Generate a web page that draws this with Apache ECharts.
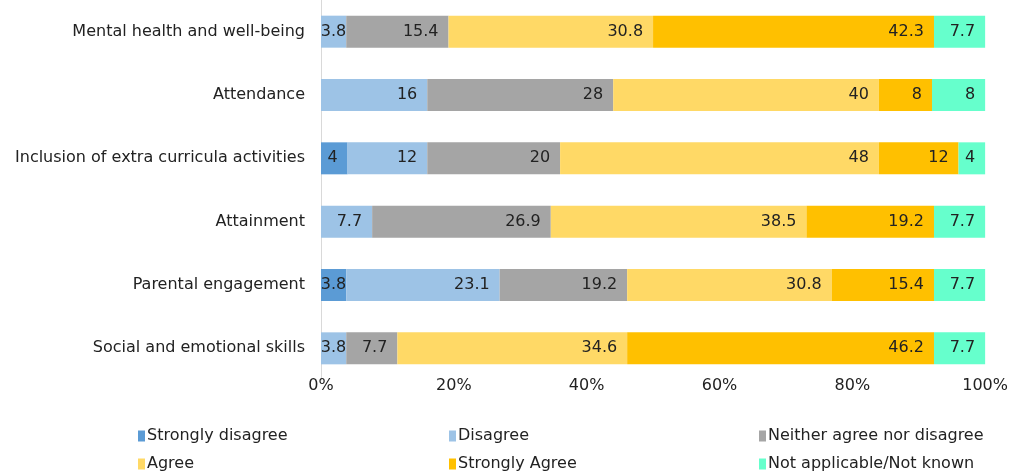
<!DOCTYPE html>
<html>
<head>
<meta charset="utf-8">
<script src="https://cdn.jsdelivr.net/npm/echarts@6/dist/echarts.min.js"></script>
<style>
  html, body { margin: 0; padding: 0; background: #fff; }
  #chart { width: 1011px; height: 474px; }
</style>
</head>
<body>
<div id="chart"></div>
<script>
var categories = ['Mental health and well-being', 'Attendance', 'Inclusion of extra curricula activities',
  'Attainment', 'Parental engagement', 'Social and emotional skills'];
var xTicks = ['0%', '20%', '40%', '60%', '80%', '100%'];

var stronglyDisagree = [0, 0, 4, 0, 3.8, 0];
var disagree = [3.8, 16, 12, 7.7, 23.1, 3.8];
var neither = [15.4, 28, 20, 26.9, 19.2, 7.7];
var agree = [30.8, 40, 48, 38.5, 30.8, 34.6];
var stronglyAgree = [42.3, 8, 12, 19.2, 15.4, 46.2];
var notKnown = [7.7, 8, 4, 7.7, 7.7, 7.7];

var FONT = 'DejaVu Sans';

var seriesDefs = [
  { name: 'Strongly disagree', data: stronglyDisagree, color: '#5B9BD5' },
  { name: 'Disagree', data: disagree, color: '#9DC3E6' },
  { name: 'Neither agree nor disagree', data: neither, color: '#A5A5A5' },
  { name: 'Agree', data: agree, color: '#FFD966' },
  { name: 'Strongly Agree', data: stronglyAgree, color: '#FFC000' },
  { name: 'Not applicable/Not known', data: notKnown, color: '#66FFCC' }
];

// legend slots: column x, row y
var legendPos = [[133, 423], [133, 451], [444, 423], [444, 451], [754, 423], [754, 451]];
var legendOrder = ['Strongly disagree', 'Agree', 'Disagree', 'Strongly Agree',
  'Neither agree nor disagree', 'Not applicable/Not known'];

var chart = echarts.init(document.getElementById('chart'));

var series = seriesDefs.map(function (s) {
  return {
    name: s.name,
    type: 'bar',
    stack: 'total',
    barWidth: 32,
    itemStyle: { color: s.color },
    label: {
      show: true,
      position: 'insideRight',
      distance: 10,
      color: '#222',
      fontSize: 16,
      fontFamily: FONT,
      formatter: function (p) { return p.value ? String(p.value) : ''; }
    },
    data: s.data.map(function (v) {
      // tiny segments: label hugs the segment like the original
      return v > 0 && v < 4 ? { value: v, label: { distance: 0 } } : v;
    })
  };
});

var legends = legendOrder.map(function (name, i) {
  return {
    left: legendPos[i][0],
    top: legendPos[i][1],
    data: [name],
    icon: 'rect',
    itemWidth: 7,
    itemHeight: 11,
    textStyle: { fontSize: 16, color: '#222', fontFamily: FONT, padding: [0, 0, 0, -3] }
  };
});

chart.setOption({
  animation: false,
  grid: { left: 321, right: 24, top: 0, bottom: 94 },
  legend: legends,
  xAxis: {
    type: 'value',
    min: 0,
    max: 100,
    interval: 20,
    axisLine: { show: false },
    axisTick: { show: false },
    splitLine: { show: false },
    axisLabel: {
      fontSize: 16,
      color: '#222',
      fontFamily: FONT,
      margin: -2,
      formatter: function (v) { return xTicks[v / 20]; }
    }
  },
  yAxis: {
    type: 'category',
    inverse: true,
    data: categories,
    axisLine: { show: true, lineStyle: { color: '#D9D9D9' } },
    axisTick: { show: false },
    axisLabel: {
      fontSize: 16,
      color: '#222',
      fontFamily: FONT,
      margin: 16
    }
  },
  series: series
});
</script>
</body>
</html>
